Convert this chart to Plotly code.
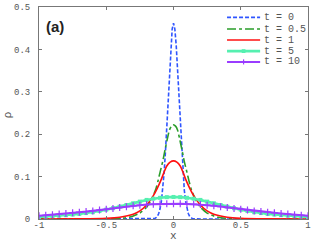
import plotly.graph_objects as go

# ---- data ----
x_t0 = [-1, -0.5, -0.2, -0.14, -0.13, -0.12, -0.11, -0.10, -0.09, -0.08, -0.07, -0.06, -0.05, -0.04,
        -0.03, -0.02, -0.01, 0, 0.01, 0.02, 0.03, 0.04, 0.05, 0.06, 0.07, 0.08, 0.09, 0.10, 0.11,
        0.12, 0.13, 0.14, 0.2, 0.5, 1]
rho_t0 = [0, 0, 0, 0.001, 0.003, 0.006, 0.013, 0.024, 0.042, 0.069, 0.108, 0.158, 0.220, 0.287,
          0.354, 0.410, 0.448, 0.462, 0.448, 0.410, 0.354, 0.287, 0.220, 0.158, 0.108, 0.069, 0.042,
          0.024, 0.013, 0.006, 0.003, 0.001, 0, 0, 0]

x_t05 = [-1, -0.6, -0.45, -0.33, -0.25, -0.2, -0.16, -0.13, -0.115, -0.1, -0.08, -0.063, -0.045,
         -0.03, -0.015, 0, 0.015, 0.03, 0.045, 0.063, 0.08, 0.1, 0.115, 0.13, 0.16, 0.2, 0.25,
         0.33, 0.45, 0.6, 1]
rho_t05 = [0, 0, 0.0008, 0.004, 0.014, 0.028, 0.048, 0.072, 0.090, 0.110, 0.136, 0.163, 0.190,
           0.210, 0.219, 0.222, 0.219, 0.210, 0.190, 0.163, 0.136, 0.110, 0.090, 0.072, 0.048,
           0.028, 0.014, 0.004, 0.0008, 0, 0]

x_t1 = [-1, -0.7, -0.5, -0.4, -0.3, -0.25, -0.2, -0.15, -0.12, -0.09, -0.07, -0.05, -0.025, 0,
        0.025, 0.05, 0.07, 0.09, 0.12, 0.15, 0.2, 0.25, 0.3, 0.4, 0.5, 0.7, 1]
rho_t1 = [0, 0.0003, 0.0015, 0.004, 0.011, 0.019, 0.033, 0.055, 0.073, 0.094, 0.111, 0.125, 0.134,
          0.137, 0.134, 0.125, 0.111, 0.094, 0.073, 0.055, 0.033, 0.019, 0.011, 0.004, 0.0015,
          0.0003, 0]

x_grid = [-1.0, -0.95, -0.9, -0.85, -0.8, -0.75, -0.7, -0.65, -0.6, -0.55, -0.5, -0.45, -0.4,
          -0.35, -0.3, -0.25, -0.2, -0.15, -0.1, -0.05, 0.0, 0.05, 0.1, 0.15, 0.2, 0.25, 0.3,
          0.35, 0.4, 0.45, 0.5, 0.55, 0.6, 0.65, 0.7, 0.75, 0.8, 0.85, 0.9, 0.95, 1.0]
rho_t5 = [0.005, 0.0058, 0.0066, 0.0078, 0.009, 0.0105, 0.012, 0.014, 0.016, 0.019, 0.022, 0.0255,
          0.029, 0.033, 0.037, 0.041, 0.045, 0.048, 0.050, 0.0515, 0.052, 0.0515, 0.050, 0.048,
          0.045, 0.041, 0.037, 0.033, 0.029, 0.0255, 0.022, 0.019, 0.016, 0.014, 0.012, 0.0105,
          0.009, 0.0078, 0.0066, 0.0058, 0.005]
rho_t10 = [0.0078, 0.0089, 0.010, 0.0115, 0.013, 0.0145, 0.016, 0.0175, 0.019, 0.021, 0.023, 0.025,
           0.027, 0.029, 0.031, 0.0327, 0.034, 0.035, 0.0355, 0.0358, 0.036, 0.0358, 0.0355, 0.035,
           0.034, 0.0327, 0.031, 0.029, 0.027, 0.025, 0.023, 0.021, 0.019, 0.0175, 0.016, 0.0145,
           0.013, 0.0115, 0.010, 0.0089, 0.0078]

series_names = ["t = 0", "t = 0.5", "t = 1", "t = 5", "t = 10"]
x_ticks = [-1, -0.5, 0, 0.5, 1]
x_ticklabels = ["-1", "-0.5", "0", "0.5", "1"]
y_ticks = [0, 0.1, 0.2, 0.3, 0.4, 0.5]
y_ticklabels = ["0", "0.1", "0.2", "0.3", "0.4", "0.5"]

MONO = "Liberation Mono, DejaVu Sans Mono, monospace"
GRAY = "#555555"
C_T0, C_T05, C_T1, C_T5, C_T10 = "#2f55ff", "#2a9d2a", "#ff1010", "#55f0b0", "#9a3cff"

fig = go.Figure()
fig.add_trace(go.Scatter(x=x_t0, y=rho_t0, mode="lines", name=series_names[0],
                         line=dict(color=C_T0, width=1.6, dash="4px,2px")))
fig.add_trace(go.Scatter(x=x_t05, y=rho_t05, mode="lines", name=series_names[1],
                         line=dict(color=C_T05, width=1.6, dash="dashdot", shape="spline", smoothing=0.6)))
fig.add_trace(go.Scatter(x=x_t1, y=rho_t1, mode="lines", name=series_names[2],
                         line=dict(color=C_T1, width=1.6, shape="spline", smoothing=0.6)))
fig.add_trace(go.Scatter(x=x_grid, y=rho_t5, mode="lines+markers", name=series_names[3],
                         line=dict(color=C_T5, width=2.6),
                         marker=dict(symbol="square", size=4, color=C_T5)))
fig.add_trace(go.Scatter(x=x_grid, y=rho_t10, mode="lines+markers", name=series_names[4],
                         line=dict(color=C_T10, width=2),
                         marker=dict(symbol="cross-thin", size=5, color=C_T10,
                                     line=dict(color=C_T10, width=1.2))))

axis_common = dict(showgrid=False, zeroline=False, showline=True, linecolor="#777777", linewidth=1,
                   mirror="ticks", ticks="inside", ticklen=3, tickcolor="#777777", automargin=False,
                   tickfont=dict(family=MONO, size=9, color=GRAY))

fig.update_xaxes(range=[-1, 1], tickvals=x_ticks, ticktext=x_ticklabels, ticklabelstandoff=-3,
                 **axis_common)
fig.update_yaxes(range=[0, 0.5], tickvals=y_ticks, ticktext=y_ticklabels, ticklabelstandoff=6,
                 **axis_common)

# axis titles
fig.add_annotation(text="x", xref="paper", yref="paper", x=0.5, y=-0.08, xanchor="center",
                   yanchor="middle", showarrow=False, font=dict(family=MONO, size=11, color=GRAY))
fig.add_annotation(text="ρ", xref="paper", yref="paper", x=-0.115, y=0.49, xanchor="center",
                   yanchor="middle", showarrow=False, textangle=-90,
                   font=dict(family=MONO, size=11, color=GRAY))

fig.add_annotation(text="<b>(a)</b>", xref="paper", yref="paper", x=0.018, y=0.91,
                   xanchor="left", yanchor="middle", showarrow=False,
                   font=dict(family="Liberation Sans, Arial, sans-serif", size=15, color="#222222"))

# compact legend (drawn in paper coordinates)
leg_rows = [0.951, 0.896, 0.844, 0.792, 0.741]
leg_x0, leg_x1, leg_tx = 0.699, 0.822, 0.83
leg_styles = [dict(color=C_T0, width=1.6, dash="4px,2px"),
              dict(color=C_T05, width=1.6, dash="dashdot"),
              dict(color=C_T1, width=1.6),
              dict(color=C_T5, width=2.6),
              dict(color=C_T10, width=2)]
for name, yy, st in zip(series_names, leg_rows, leg_styles):
    fig.add_shape(type="line", xref="paper", yref="paper", x0=leg_x0, x1=leg_x1, y0=yy, y1=yy,
                  line=st)
    fig.add_annotation(text=name, xref="paper", yref="paper", x=leg_tx, y=yy, xanchor="left",
                       yanchor="middle", showarrow=False, font=dict(family=MONO, size=10, color=GRAY))
xm = (leg_x0 + leg_x1) / 2
# marker for t = 5
fig.add_shape(type="rect", xref="paper", yref="paper", x0=xm - 0.007, x1=xm + 0.007,
              y0=leg_rows[3] - 0.009, y1=leg_rows[3] + 0.009, fillcolor=C_T5, line=dict(width=0))
# marker for t = 10
fig.add_shape(type="line", xref="paper", yref="paper", x0=xm, x1=xm,
              y0=leg_rows[4] - 0.012, y1=leg_rows[4] + 0.012, line=dict(color=C_T10, width=1.2))

fig.update_layout(
    width=316, height=242,
    margin=dict(l=39, r=8, t=7, b=23, autoexpand=False),
    paper_bgcolor="white", plot_bgcolor="white",
    showlegend=False,
)

fig.write_html("out.html", config={"displayModeBar": False},
               post_script="document.body.style.margin='0';")
